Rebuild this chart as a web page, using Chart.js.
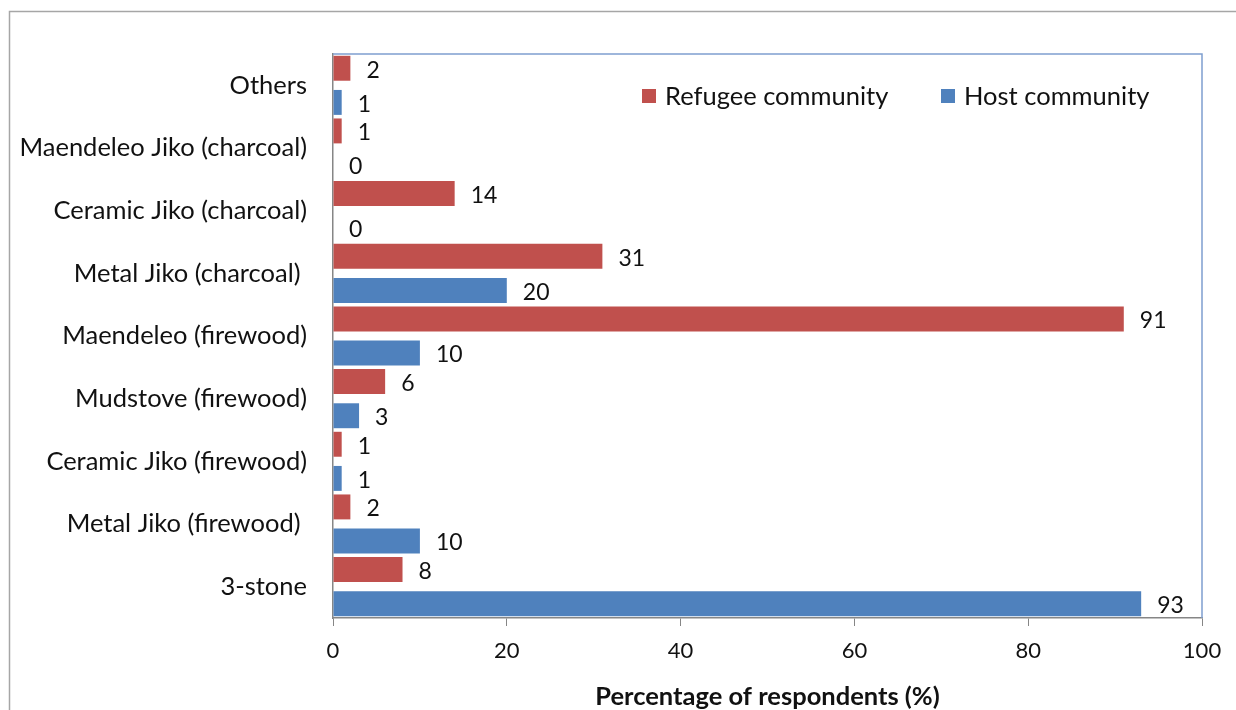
<!DOCTYPE html>
<html>
<head>
<meta charset="utf-8">
<script src="https://cdn.jsdelivr.net/npm/chart.js@4/dist/chart.umd.min.js"></script>
<style>
  html, body { margin: 0; padding: 0; background: #fff; }
  #wrap { width: 1236px; height: 710px; position: relative; }
</style>
</head>
<body>
<div id="wrap"><canvas id="chart" width="1236" height="710"></canvas></div>
<script>
// Stove types, top to bottom
const stoveTypes = [
  'Others',
  'Maendeleo Jiko (charcoal)',
  'Ceramic Jiko (charcoal)',
  'Metal Jiko (charcoal) ',
  'Maendeleo (firewood)',
  'Mudstove (firewood)',
  'Ceramic Jiko (firewood)',
  'Metal Jiko (firewood) ',
  '3-stone',
];
const refugeeValues = [2, 1, 14, 31, 91, 6, 1, 2, 8];
const hostValues = [1, 0, 0, 20, 10, 3, 1, 10, 93];
const xTicks = [0, 20, 40, 60, 80, 100];

const RED = '#C0504D';
const BLUE = '#4F81BD';
const AXIS = '#868686';
const FONT = 'Lato, "Open Sans", sans-serif';

// outer frame of the figure
const framePlugin = {
  id: 'frame',
  beforeDraw(chart) {
    const ctx = chart.ctx;
    ctx.save();
    ctx.fillStyle = '#fff';
    ctx.fillRect(0, 0, chart.width, chart.height);
    ctx.strokeStyle = '#a6a6a6';
    ctx.lineWidth = 1.5;
    ctx.strokeRect(9.5, 11.5, chart.width + 50, chart.height + 50);
    ctx.restore();
  },
  beforeDatasetsDraw(chart) {
    // plot area border on top and right
    const { ctx, chartArea: a } = chart;
    ctx.save();
    ctx.strokeStyle = '#7f9fcf';
    ctx.lineWidth = 1.5;
    ctx.beginPath();
    ctx.moveTo(a.left, a.top);
    ctx.lineTo(a.right, a.top);
    ctx.lineTo(a.right, a.bottom);
    ctx.stroke();
    ctx.restore();
  },
};

// value at the end of each bar
const valueLabels = {
  id: 'valueLabels',
  afterDatasetsDraw(chart) {
    const ctx = chart.ctx;
    ctx.save();
    ctx.font = '23px ' + FONT;
    ctx.fillStyle = '#111';
    ctx.textAlign = 'left';
    ctx.textBaseline = 'middle';
    chart.data.datasets.forEach((ds, i) => {
      chart.getDatasetMeta(i).data.forEach((bar, j) => {
        ctx.fillText(String(ds.data[j]), bar.x + 16, bar.y + 2);
      });
    });
    ctx.restore();
  },
};

// legend inside the plot, top right
const innerLegend = {
  id: 'innerLegend',
  afterDraw(chart) {
    const { ctx, chartArea: a } = chart;
    const items = chart.data.datasets.map(ds => ({ text: ds.label, color: ds.backgroundColor }));
    const xs = [a.left + 309, a.left + 608];
    const y = a.top + 42;
    ctx.save();
    ctx.font = '25.5px ' + FONT;
    ctx.textBaseline = 'middle';
    ctx.textAlign = 'left';
    items.forEach((it, i) => {
      ctx.fillStyle = it.color;
      ctx.fillRect(xs[i], y - 7, 14, 14);
      ctx.fillStyle = '#111';
      ctx.fillText(it.text, xs[i] + 23, y + 1);
    });
    ctx.restore();
  },
};

new Chart(document.getElementById('chart'), {
  type: 'bar',
  data: {
    labels: stoveTypes,
    datasets: [
      { label: 'Refugee community', data: refugeeValues, backgroundColor: RED },
      { label: 'Host community', data: hostValues, backgroundColor: BLUE },
    ],
  },
  options: {
    indexAxis: 'y',
    responsive: false,
    animation: false,
    categoryPercentage: 1.09,
    barPercentage: 0.73,
    layout: { padding: { top: 54, right: 34, left: 0, bottom: 0 } },
    plugins: {
      legend: { display: false },
      tooltip: { enabled: false },
    },
    scales: {
      x: {
        min: 0,
        max: 100,
        afterBuildTicks: scale => { scale.ticks = xTicks.map(v => ({ value: v })); },
        grid: { drawOnChartArea: false, drawTicks: true, tickLength: 8, color: AXIS },
        border: { color: AXIS, width: 1.5 },
        ticks: { color: '#111', font: { family: FONT, size: 22 }, padding: 12 },
        title: {
          display: true,
          text: 'Percentage of respondents (%)',
          color: '#111',
          font: { family: FONT, size: 25.5, weight: 'bold', lineHeight: 1.0 },
          padding: { top: 4, bottom: 0 },
        },
        afterFit: scale => { scale.height = 92; },
      },
      y: {
        grid: { display: false, drawTicks: false },
        border: { color: AXIS, width: 1.5 },
        ticks: { color: '#111', font: { family: FONT, size: 25.5 }, padding: 26 },
        afterFit: scale => { scale.width = 333; },
      },
    },
  },
  plugins: [framePlugin, valueLabels, innerLegend],
});
</script>
</body>
</html>
